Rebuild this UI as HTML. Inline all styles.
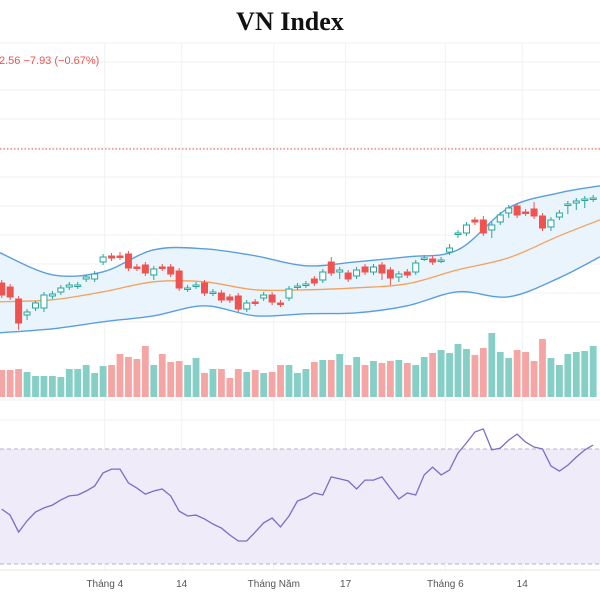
<!DOCTYPE html>
<html><head><meta charset="utf-8"><style>
html,body{margin:0;padding:0;background:#fff;}
svg{display:block;}
</style></head><body>
<svg id="chart" width="600" height="600" viewBox="0 0 600 600" xmlns="http://www.w3.org/2000/svg">
<text x="290" y="30" text-anchor="middle" font-family="Liberation Serif, serif" font-weight="bold" font-size="26" fill="#111">VN Index</text>
<g id="grid"></g>
<g id="rsiBand"></g>
<g id="bb"></g>
<g id="vol"></g>
<g id="candles"></g>
<g id="rsi"></g>
<g id="xaxis"></g>
<line x1="0" x2="600" y1="149" y2="149" stroke="#ef5350" stroke-width="1" stroke-dasharray="1.5,2"/>
<text x="-1" y="64" font-family="Liberation Sans, sans-serif" font-size="11" fill="#ef5350">2.56 −7.93 (−0.67%)</text>
</svg>
<script>
const opens=[1115.5,1113.5,1107.5,1099.5,1103,1103,1109,1111,1113.5,1114,1117.5,1117.5,1126,1129,1129,1130,1123.5,1124.5,1119.5,1123.5,1123.5,1121.5,1112.5,1114,1115.5,1110.5,1110.5,1108.5,1109,1102.5,1106,1108,1109.5,1105.5,1108,1113.5,1114.5,1117.5,1117,1126,1121,1120.5,1119,1123.5,1121,1124.5,1122,1118.5,1121,1121,1127.5,1127.5,1126.5,1131,1140,1140.5,1147,1147,1142,1146,1150.5,1154,1151,1152.5,1149,1143.5,1148.5,1154.5,1155.5,1157,1157.5];
const closes=[1109.5,1108.5,1095.5,1101,1105.5,1109.5,1110,1113,1114.5,1114.5,1118.5,1120,1128.5,1128,1128.5,1123,1123,1120.5,1122.5,1123,1120,1113,1113,1114.5,1110.5,1111,1107,1107,1102.5,1105.5,1105.5,1109.5,1106,1105,1112.5,1114,1115,1115.5,1121,1120.5,1122,1117.5,1122,1121,1123.5,1120.5,1118,1120,1119.5,1125.5,1128,1126,1127,1133,1140.5,1144.5,1146,1140.5,1144.5,1149.5,1153,1149.5,1150.5,1149,1143,1147,1150.5,1155,1156.5,1157.5,1158];
const highs=[1117,1115,1109,1102.5,1106.5,1111,1111.5,1114.5,1116,1116,1119.5,1121.5,1130,1130.5,1131,1131.5,1125,1126,1124,1125,1125,1123,1114.5,1116,1117,1112.5,1112,1110,1110.5,1107,1107.5,1111,1111,1107,1114,1115.5,1116.5,1119,1122.5,1128.5,1123.5,1122,1123.5,1125,1125,1126,1123.5,1121.5,1122.5,1127,1129.5,1129,1128.5,1135,1142,1146,1148.5,1149,1146,1151,1154.5,1155.5,1152.5,1156,1150.5,1148.5,1152,1156.5,1158,1159,1159.5];
const lows=[1108,1107,1092,1097,1101.5,1101,1107.5,1109.5,1112,1112.5,1116,1116,1124.5,1126.5,1127,1121.5,1121.5,1119,1117,1121.5,1118.5,1111.5,1111,1112.5,1109,1109,1105.5,1105.5,1101,1101,1104,1106.5,1104.5,1103.5,1106.5,1112,1113,1114,1115.5,1119,1117.5,1116,1117.5,1119.5,1119.5,1117,1114.5,1116,1118,1119.5,1126.5,1124.5,1125.5,1129.5,1138,1139,1144.5,1139,1138,1144.5,1148,1148,1149,1147.5,1141.5,1141.5,1147,1150,1152,1153,1156];
const volumes=[270,270,280,250,210,210,210,200,280,280,320,240,310,320,430,400,380,510,320,430,350,360,320,390,240,280,280,190,280,250,270,240,250,320,320,240,280,350,370,370,430,320,400,320,360,340,360,370,340,320,400,440,470,440,530,480,420,490,640,450,390,470,450,360,580,390,320,430,450,460,510];
const rsiValues=[49.1,47.0,41.1,45.0,48.1,49.5,50.5,52.3,53.7,54.0,55.4,57.1,61.7,63.0,63.0,58.2,56.4,54.3,55.4,56.1,53.7,48.4,46.7,47.0,45.7,43.9,42.5,40.1,38.0,38.0,41.1,44.3,46.0,42.9,46.7,51.9,53.0,54.7,54.0,60.3,59.6,58.9,56.1,59.2,59.2,60.3,56.4,52.6,54.7,54.0,61.0,63.7,61.0,62.7,68.6,72.1,75.9,77.0,69.7,70.3,73.1,75.2,72.4,70.7,70.0,64.1,62.3,64.4,67.2,69.7,71.4];
const bandIdx=[0,6,12,18,24,30,36,42,48,54,60,66,70];
const bandUpper=[1130.6,1119.6,1121.1,1132.1,1132.6,1129.1,1124.1,1126.1,1128.6,1132.1,1153.1,1160.6,1164.1];
const bandMid=[1106.1,1107.1,1111.1,1116.1,1116.1,1112.1,1112.1,1113.1,1115.1,1122.1,1128.1,1139.1,1147.1];
const bandLower=[1090.6,1092.6,1096.1,1099.1,1104.1,1099.1,1100.1,1100.6,1104.1,1111.1,1108.6,1118.1,1128.6];
const tickLabels=["Tháng 4","14","Tháng Năm","17","Tháng 6","14"];
const tickIdx=[12.2,21.3,32.2,40.7,52.5,61.6];

const NS="http://www.w3.org/2000/svg";
function mk(tag,attrs,parent){const e=document.createElementNS(NS,tag);for(const k in attrs)e.setAttribute(k,attrs[k]);parent.appendChild(e);return e;}
const xScale=i=>1.7+i*8.45;
const yPrice=p=>2*(1257-p);
const yVol=v=>397-v/10;
const yRsi=v=>449+(70-v)*2.875;

// grid
const grid=document.getElementById('grid');
[43,62,90,119,148,177,206,235,264,293,322].forEach(y=>{const l=mk('line',{x1:0,x2:600,y1:y,y2:y,stroke:'#f0f1f3','stroke-width':1},grid);

});
[400,420,478,507,535].forEach(y=>{const l=mk('line',{x1:0,x2:600,y1:y,y2:y,stroke:'#f0f1f3','stroke-width':1},grid);

});
tickIdx.forEach(t=>{const l=mk('line',{x1:xScale(t),x2:xScale(t),y1:43,y2:570,stroke:'#f0f1f3','stroke-width':1},grid);

});

// RSI band
const rb=document.getElementById('rsiBand');
const rbr=mk('rect',{x:0,y:yRsi(70),width:600,height:yRsi(30)-yRsi(70),fill:'#efebf8'},rb);


[70,30].forEach(v=>{const l=mk('line',{x1:0,x2:600,y1:yRsi(v),y2:yRsi(v),stroke:'#b9b3cc','stroke-width':1,'stroke-dasharray':'4,3'},rb);

});

// smooth path
function smooth(pts){let d='M'+pts[0][0]+','+pts[0][1];for(let i=0;i<pts.length-1;i++){const p0=pts[Math.max(0,i-1)],p1=pts[i],p2=pts[i+1],p3=pts[Math.min(pts.length-1,i+2)];
const c1x=p1[0]+(p2[0]-p0[0])/6,c1y=p1[1]+(p2[1]-p0[1])/6,c2x=p2[0]-(p3[0]-p1[0])/6,c2y=p2[1]-(p3[1]-p1[1])/6;
d+=' C'+c1x.toFixed(1)+','+c1y.toFixed(1)+' '+c2x.toFixed(1)+','+c2y.toFixed(1)+' '+p2[0].toFixed(1)+','+p2[1].toFixed(1);}return d;}
const bb=document.getElementById('bb');
const up=bandIdx.map((t,k)=>[xScale(t),yPrice(bandUpper[k])]);
const lo=bandIdx.map((t,k)=>[xScale(t),yPrice(bandLower[k])]);
const md=bandIdx.map((t,k)=>[xScale(t),yPrice(bandMid[k])]);
up[0][0]=0;lo[0][0]=0;md[0][0]=0;up[up.length-1][0]=600;lo[lo.length-1][0]=600;md[md.length-1][0]=600;
const fillD=smooth(up)+' L'+lo[lo.length-1][0]+','+lo[lo.length-1][1]+' '+smooth(lo.slice().reverse()).replace(/^M[^ C]+/,'')+' Z';
const bf=mk('path',{d:fillD,fill:'#eaf4fc',stroke:'none'},bb);


const bu=mk('path',{d:smooth(up),fill:'none',stroke:'#5a9ee0','stroke-width':1.4},bb);


const bl=mk('path',{d:smooth(lo),fill:'none',stroke:'#5a9ee0','stroke-width':1.4},bb);


const bm=mk('path',{d:smooth(md),fill:'none',stroke:'#f4a15d','stroke-width':1.3},bb);



// volume
const vg=document.getElementById('vol');
volumes.forEach((v,i)=>{const upc=closes[i]>=opens[i];
const r=mk('rect',{x:xScale(i)-3.4,y:yVol(v),width:6.8,height:397-yVol(v),fill:upc?'#86cfc6':'#f5a5a3'},vg);

});

// candles
const cg=document.getElementById('candles');
opens.forEach((o,i)=>{const c=closes[i],upc=c>=o,col=upc?'#26a69a':'#ef5350',x=xScale(i);
const w=mk('line',{x1:x,x2:x,y1:yPrice(highs[i]),y2:yPrice(lows[i]),stroke:col,'stroke-width':1},cg);


const top=yPrice(Math.max(o,c)),h=Math.max(1.5,Math.abs(yPrice(o)-yPrice(c)));
const b=mk('rect',{x:x-3,y:top,width:6,height:h,fill:upc?'#ffffff':col,stroke:col,'stroke-width':1},cg);

});

// rsi
const rg=document.getElementById('rsi');
const rp=rsiValues.map((v,i)=>(i?'L':'M')+xScale(i).toFixed(1)+','+yRsi(v).toFixed(1)).join(' ');
const rl=mk('path',{d:rp,fill:'none',stroke:'#7e6cc6','stroke-width':1.3},rg);



// x axis
const xa=document.getElementById('xaxis');
const al=mk('line',{x1:0,x2:600,y1:570,y2:570,stroke:'#e6e6e6','stroke-width':1},xa);


tickLabels.forEach((t,k)=>{const tx=mk('text',{x:xScale(tickIdx[k]),y:587,'text-anchor':'middle','font-family':'Liberation Sans, sans-serif','font-size':10,fill:'#555'},xa);
tx.textContent=t;

});
</script>
</body></html>
